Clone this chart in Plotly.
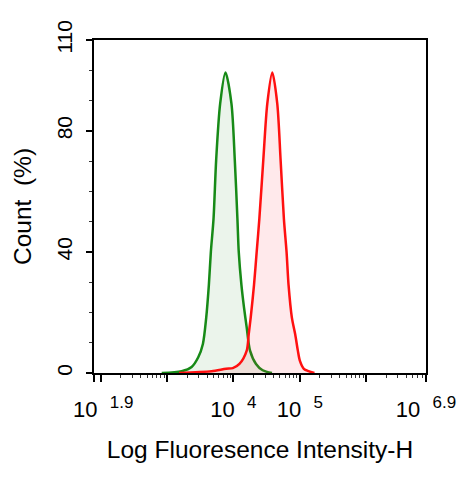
"""
フローサイトメトリーのヒストグラム (緑: コントロール, 赤: 染色サンプル)
"""

import plotly.graph_objects as go

# 緑 (コントロール) : 蛍光強度の指数 (log10) と Count (%)
green_log = [2.92, 3.22, 3.37, 3.47, 3.54, 3.59, 3.63, 3.66, 3.70, 3.74,
             3.80, 3.88, 3.97, 4.02, 4.06, 4.08, 4.12, 4.16, 4.20, 4.25,
             4.34, 4.44, 4.58]
green_pct = [0.0, 0.6, 2.0, 5.2, 9.6, 18.3, 29.1, 40.0, 50.9, 70.5,
             89.0, 99.3, 89.0, 70.5, 50.9, 40.0, 29.1, 21.5, 15.0, 7.4,
             3.0, 0.9, 0.0]

# 赤 (染色サンプル)
red_log = [3.18, 3.67, 3.89, 3.99, 4.09, 4.20, 4.23, 4.26, 4.31, 4.35,
           4.39, 4.45, 4.51, 4.585, 4.66, 4.71, 4.76, 4.80, 4.83, 4.88,
           4.93, 4.97, 5.00, 5.06, 5.13, 5.22]
red_pct = [0.0, 0.6, 1.4, 1.6, 3.0, 7.4, 12.8, 18.3, 29.1, 40.0,
           50.9, 70.5, 89.0, 99.3, 89.0, 70.5, 50.9, 40.0, 29.1, 18.3,
           12.8, 7.4, 4.1, 1.4, 0.6, 0.0]

# 軸の目盛り
x_major_exp = [1.9, 2, 3, 4, 5, 6, 6.9]
x_major_sup = ["1.9", "", "", "4", "5", "", "6.9"]
y_major = [0, 40, 80, 110]
y_minor = [10, 20, 30, 50, 60, 70, 90, 100]

FONT = "Arial, Liberation Sans, sans-serif"
SUP = "10&nbsp; <sup><span style='font-size:17px'>{}</span></sup>"

x_major = [10 ** e for e in x_major_exp]
x_minor = [m * 10 ** d for d in range(2, 7) for m in range(2, 10) if m * 10 ** d < 10 ** 6.9]
x_text = [SUP.format(s) if s else "" for s in x_major_sup]
# 左端のラベルは少し右寄せ
x_text[0] = "&nbsp;&nbsp;&nbsp;" + x_text[0]

fig = go.Figure()
fig.add_trace(
    go.Scatter(
        x=[10 ** v for v in green_log],
        y=green_pct,
        mode="lines",
        line={"color": "#178a17", "width": 2.5, "shape": "spline", "smoothing": 0.8},
        fill="tozeroy",
        fillcolor="rgba(30,130,30,0.09)",
        showlegend=False,
    )
)
fig.add_trace(
    go.Scatter(
        x=[10 ** v for v in red_log],
        y=red_pct,
        mode="lines",
        line={"color": "#ff1010", "width": 2.5, "shape": "spline", "smoothing": 0.8},
        fill="tozeroy",
        fillcolor="rgba(255,40,60,0.10)",
        showlegend=False,
    )
)

fig.update_layout(
    width=460,
    height=463,
    margin={"l": 86, "r": 37, "t": 31, "b": 95},
    paper_bgcolor="white",
    plot_bgcolor="white",
    font={"family": FONT, "color": "black", "size": 22},
)
fig.update_xaxes(
    type="log",
    range=[1.9, 6.9],
    tickmode="array",
    tickvals=x_major,
    ticktext=x_text,
    ticks="outside",
    ticklen=7,
    tickwidth=2,
    tickcolor="black",
    ticklabelstandoff=9,
    tickfont={"size": 22},
    minor={"tickvals": x_minor, "ticks": "outside", "ticklen": 3, "tickwidth": 1.2, "tickcolor": "#333"},
    showgrid=False,
    zeroline=False,
    showline=True,
    linewidth=2,
    linecolor="black",
    mirror=True,
    title={"text": "Log Fluoresence Intensity-H", "font": {"size": 24.5}, "standoff": 19},
)
fig.update_yaxes(
    range=[0, 110],
    tickmode="array",
    tickvals=y_major,
    ticks="outside",
    ticklen=6,
    tickwidth=2,
    tickcolor="black",
    tickangle=-90,
    ticklabelstandoff=6,
    tickfont={"size": 21},
    minor={"tickvals": y_minor, "ticks": "outside", "ticklen": 3, "tickwidth": 1.2, "tickcolor": "#333"},
    showgrid=False,
    zeroline=False,
    showline=True,
    linewidth=2,
    linecolor="black",
    mirror=True,
    title={"text": "Count  (%)", "font": {"size": 24.5}, "standoff": 14},
)

fig.write_html("out.html")
